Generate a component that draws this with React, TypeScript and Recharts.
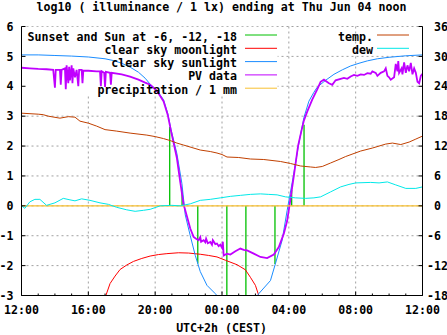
import React from "react";
import {
  ComposedChart,
  Line,
  XAxis,
  YAxis,
  CartesianGrid,
  ReferenceArea,
} from "recharts";

// hours since midnight Jun 03 (24 = 00:00 Jun 04)
const hourTicks = [12, 13, 14, 15, 16, 17, 18, 19, 20, 21, 22, 23, 24, 25, 26, 27, 28, 29, 30, 31, 32, 33, 34, 35, 36];
const majorHours = [12, 16, 20, 24, 28, 32, 36];
const gridHours = [16, 20, 24, 28, 32];
const lightTicks = [-3, -2, -1, 0, 1, 2, 3, 4, 5, 6];
const tempTicks = [-18, -12, -6, 0, 6, 12, 18, 24, 30, 36];

// sunset / sun at -6, -12, -18 deg: [hour, log10 lx]
const sunEvents: [number, number][] = [
  [20.87, 2.64], [21.61, 0.58], [22.55, -1.93], [24.29, -3.6],
  [25.43, -3.6], [27.17, -1.95], [28.17, 0.53], [28.91, 2.71],
];

const moonlight: [number, number][] = [
  [17.05, -3.0], [17.3, -2.6], [17.6, -2.35], [17.9, -2.13], [18.3, -1.98],
  [18.7, -1.86], [19.2, -1.76], [19.7, -1.68], [20.2, -1.63], [20.7, -1.6],
  [21.4, -1.57], [22.0, -1.58], [22.7, -1.62], [23.2, -1.66], [23.7, -1.71],
  [24.2, -1.82], [24.9, -1.97], [25.4, -2.14], [25.7, -2.39], [26.0, -2.66],
  [26.2, -3.0],
];

const sunlight: [number, number][] = [
  [12.0, 5.05], [13.0, 5.05], [14.0, 5.03], [15.0, 5.01], [16.0, 4.98],
  [17.0, 4.92], [17.5, 4.86], [18.0, 4.77], [18.5, 4.64], [19.0, 4.47],
  [19.4, 4.27], [19.7, 4.07], [20.1, 3.87], [20.5, 3.55], [20.75, 3.1],
  [20.95, 2.55], [21.3, 1.75], [21.6, 0.75], [21.8, -0.3], [22.1, -1.0],
  [22.4, -1.66], [22.7, -2.2], [23.1, -2.66], [23.6, -2.94], [24.0, -3.2],
  [25.0, -3.5], [26.0, -3.1], [26.2, -2.94], [26.9, -2.5], [27.2, -1.93],
  [27.6, -1.15], [27.9, -0.15], [28.27, 1.0], [28.57, 2.0], [28.9, 2.95],
  [29.2, 3.5], [29.5, 3.8], [29.7, 3.97], [30.2, 4.2], [30.7, 4.4],
  [31.2, 4.55], [31.7, 4.68], [32.2, 4.77], [32.7, 4.85], [33.3, 4.92],
  [34.0, 4.97], [35.0, 5.02], [36.0, 5.05],
];

const pvData: [number, number][] = [
  [12.0, 4.62], [12.5, 4.6], [13.0, 4.58], [13.5, 4.57], [13.9, 4.55],
  [14.0, 3.95], [14.05, 4.55], [14.3, 4.55], [14.35, 4.05], [14.4, 4.55],
  [14.6, 4.6], [14.65, 3.9], [14.7, 4.7], [14.8, 4.1], [14.85, 4.65],
  [14.9, 4.2], [15.0, 4.7], [15.05, 4.1], [15.1, 4.6], [15.2, 4.3],
  [15.3, 4.55], [15.4, 4.0], [15.45, 4.55], [15.6, 4.55], [15.65, 4.1],
  [15.7, 4.52], [16.0, 4.52], [16.5, 4.5], [16.7, 4.5], [16.75, 4.0],
  [16.8, 4.5], [16.95, 4.45], [17.0, 3.98], [17.05, 4.48], [17.3, 4.45],
  [17.35, 4.05], [17.4, 4.45], [18.0, 4.4], [18.5, 4.32], [19.0, 4.22],
  [19.4, 4.12], [19.7, 4.05], [20.1, 3.85], [20.5, 3.5], [20.75, 3.05],
  [20.95, 2.5], [21.3, 1.6], [21.5, 0.8], [21.7, 0.05], [21.9, -0.35],
  [22.1, -0.76], [22.3, -1.04], [22.45, -1.1], [22.6, -1.15], [22.7, -1.05],
  [22.75, -1.2], [22.9, -1.15], [23.0, -1.22], [23.05, -1.1], [23.15, -1.25],
  [23.3, -1.21], [23.4, -1.3], [23.45, -1.15], [23.6, -1.28], [23.7, -1.26],
  [23.8, -1.35], [23.9, -1.3], [24.0, -1.4], [24.05, -1.2], [24.1, -1.66],
  [24.3, -1.6], [24.5, -1.63], [24.8, -1.52], [25.1, -1.43], [25.3, -1.47],
  [25.5, -1.49], [25.9, -1.6], [26.3, -1.71], [26.7, -1.75], [27.1, -1.63],
  [27.4, -1.38], [27.7, -0.93], [27.9, -0.5], [28.05, 0.05], [28.3, 1.0],
  [28.55, 2.0], [28.75, 2.5], [28.9, 2.85], [29.1, 3.15], [29.4, 3.55],
  [29.7, 3.9], [29.9, 4.15], [30.1, 4.22], [30.4, 4.1], [30.6, 4.05],
  [30.8, 4.2], [31.1, 4.25], [31.3, 4.28], [31.5, 4.25], [31.7, 4.33],
  [31.9, 4.38], [32.1, 4.35], [32.3, 4.4], [32.5, 4.38], [32.7, 4.44],
  [32.9, 4.42], [33.0, 4.5], [33.2, 4.45], [33.3, 4.35], [33.5, 4.45],
  [33.7, 4.5], [33.8, 4.6], [33.9, 4.35], [34.0, 4.3], [34.1, 4.22],
  [34.3, 4.3], [34.4, 4.75], [34.5, 4.5], [34.55, 4.84], [34.6, 4.45],
  [34.75, 4.6], [34.8, 4.4], [34.9, 4.8], [35.0, 4.45], [35.1, 4.7],
  [35.2, 4.5], [35.3, 4.78], [35.4, 4.4], [35.5, 4.6], [35.6, 4.45],
  [35.7, 4.15], [35.8, 4.1], [35.9, 4.35], [36.0, 4.42],
];

const precipitation: [number, number][] = hourTicks.map((h) => [h, 0]);

// temperatures in deg C (right axis)
const temperature: [number, number][] = [
  [12.0, 18.6], [13.0, 18.4], [13.3, 18.3], [13.6, 18.0], [14.3, 17.6],
  [14.8, 17.9], [15.2, 17.8], [15.5, 17.0], [16.0, 16.6], [16.5, 16.0],
  [17.0, 15.3], [17.7, 15.0], [18.5, 14.6], [19.5, 14.2], [20.0, 13.9],
  [20.5, 13.5], [20.9, 13.1], [21.3, 12.6], [21.7, 12.2], [22.2, 11.7],
  [22.7, 11.2], [23.3, 10.9], [23.7, 10.6], [24.0, 10.3], [24.3, 9.8],
  [25.0, 9.7], [25.7, 9.4], [26.5, 9.3], [27.5, 8.9], [28.1, 8.5],
  [28.7, 8.0], [29.3, 7.8], [29.6, 7.7], [30.0, 7.9], [30.5, 8.6],
  [31.0, 9.3], [31.4, 9.9], [32.3, 11.0], [33.0, 11.6], [33.8, 12.4],
  [34.2, 12.6], [34.7, 12.3], [35.2, 12.8], [35.6, 13.4], [36.0, 14.0],
];

const dewPoint: [number, number][] = [
  [12.0, 0.0], [12.2, -0.5], [12.5, 0.8], [12.8, 1.3], [13.1, 1.3],
  [13.5, 0.1], [14.0, 0.6], [14.5, 1.5], [14.9, 1.2], [15.2, 1.0],
  [15.6, 1.4], [16.1, 1.1], [16.7, 0.6], [17.2, 0.3], [17.7, -0.3],
  [18.3, -0.8], [18.8, -1.1], [19.3, -0.9], [19.7, -0.7], [20.3, 0.0],
  [21.0, 0.1], [21.5, 0.0], [22.1, 0.4], [22.7, 1.1], [23.3, 1.3],
  [23.9, 1.6], [24.5, 1.9], [25.1, 2.1], [25.7, 2.3], [26.3, 2.4],
  [26.8, 2.3], [27.3, 2.2], [27.8, 1.8], [28.4, 1.6], [29.0, 1.5],
  [29.5, 1.6], [29.9, 1.8], [30.5, 2.8], [31.1, 3.8], [31.6, 4.3],
  [32.0, 4.6], [32.9, 4.7], [33.4, 4.6], [33.9, 4.8], [34.4, 4.2],
  [35.0, 3.5], [35.6, 3.5], [36.0, 3.8],
];

const toRows = (pts: [number, number][]) => pts.map(([t, v]) => ({ t, v }));

const FONT = "'DejaVu Sans Mono', 'Liberation Mono', monospace";
const textStyle = { fontFamily: FONT, fontSize: 11.6, fontWeight: 700, fill: "#000" };

const C_SUN = "#00c000";
const C_MOON = "#ff0000";
const C_CLEAR = "#1a8cff";
const C_PV = "#c000ff";
const C_PREC = "#f8c030";
const C_TEMP = "#c04000";
const C_DEW = "#00e8e8";

const clock = (h: number) => String(h % 24).padStart(2, "0") + ":00";

const BottomTick = ({ x, y, payload }: any) => {
  const major = majorHours.includes(payload.value);
  return (
    <g>
      <line x1={x} x2={x} y1={y} y2={y - (major ? 4 : 2)} stroke="#000" />
      {major && (
        <text x={x} y={y + 18} textAnchor="middle" {...textStyle}>
          {clock(payload.value)}
        </text>
      )}
    </g>
  );
};

const TopTick = ({ x, y, payload }: any) => {
  const major = majorHours.includes(payload.value);
  return <line x1={x} x2={x} y1={y} y2={y + (major ? 4 : 2)} stroke="#000" />;
};

const LeftTick = ({ x, y, payload }: any) => (
  <g>
    <line x1={x} x2={x + 4} y1={y} y2={y} stroke="#000" />
    <text x={x - 8} y={y + 4.2} textAnchor="end" {...textStyle}>
      {payload.value}
    </text>
  </g>
);

// minus sign hangs to the left of the digits, like gnuplot's y2 labels
const RightTick = ({ x, y, payload }: any) => (
  <g>
    <line x1={x} x2={x - 4} y1={y} y2={y} stroke="#000" />
    <text x={x + (payload.value < 0 ? 4.6 : 11.6)} y={y + 4.2} textAnchor="start" {...textStyle}>
      {payload.value}
    </text>
  </g>
);

const leftKeys = [
  { label: "Sunset and Sun at -6, -12, -18", color: C_SUN },
  { label: "clear sky moonlight", color: C_MOON },
  { label: "clear sky sunlight", color: C_CLEAR },
  { label: "PV data", color: C_PV },
  { label: "precipitation / 1 mm", color: C_PREC },
];
const rightKeys = [
  { label: "temp.", color: C_TEMP },
  { label: "dew", color: C_DEW },
];

const Overlay = () => (
  <svg
    width={447}
    height={335}
    style={{ position: "absolute", left: 0, top: 0, pointerEvents: "none" }}
  >
    <text x={221.5} y={11} textAnchor="middle" {...textStyle}>
      log10 ( illuminance / 1 lx) ending at Thu Jun 04 noon
    </text>
    <text x={221.5} y={331.5} textAnchor="middle" {...textStyle}>
      UTC+2h (CEST)
    </text>
    {leftKeys.map((k, i) => {
      const y = 35 + i * 13.3;
      return (
        <g key={k.label}>
          <text x={237} y={y + 5.5} textAnchor="end" {...textStyle}>
            {k.label}
          </text>
          <line x1={245} x2={277} y1={y} y2={y} stroke={k.color} strokeWidth={1} />
        </g>
      );
    })}
    {rightKeys.map((k, i) => {
      const y = 35 + i * 13.3;
      return (
        <g key={k.label}>
          <text x={373} y={y + 5.5} textAnchor="end" {...textStyle}>
            {k.label}
          </text>
          <line x1={377} x2={409} y1={y} y2={y} stroke={k.color} strokeWidth={1} />
        </g>
      );
    })}
  </svg>
);

const lineProps = {
  type: "linear" as const,
  dataKey: "v",
  dot: false,
  activeDot: false,
  isAnimationActive: false,
  xAxisId: "bottom",
};

export default function App() {
  return (
    <div style={{ position: "absolute", left: 0, top: 0, width: 447, height: 335, background: "#fff" }}>
      <ComposedChart
        width={447}
        height={335}
        margin={{ top: 26.5, right: 0, bottom: 0, left: 0 }}
      >
        <CartesianGrid
          xAxisId="bottom"
          yAxisId="left"
          stroke="#a0a0a0"
          strokeDasharray="2 3"
          verticalValues={gridHours}
        />
        <XAxis
          xAxisId="bottom"
          dataKey="t"
          type="number"
          domain={[12, 36]}
          ticks={hourTicks}
          interval={0}
          allowDataOverflow
          height={39.5}
          tickSize={0}
          tickMargin={0}
          tick={<BottomTick />}
          axisLine={{ stroke: "#000" }}
        />
        <XAxis
          xAxisId="top"
          orientation="top"
          dataKey="t"
          type="number"
          domain={[12, 36]}
          ticks={hourTicks}
          interval={0}
          allowDataOverflow
          height={0}
          tickSize={0}
          tickMargin={0}
          tick={<TopTick />}
          axisLine={{ stroke: "#000" }}
        />
        <YAxis
          yAxisId="left"
          type="number"
          domain={[-3, 6]}
          ticks={lightTicks}
          interval={0}
          allowDataOverflow
          width={21.5}
          tickSize={0}
          tickMargin={0}
          tick={<LeftTick />}
          axisLine={{ stroke: "#000" }}
        />
        <YAxis
          yAxisId="right"
          orientation="right"
          type="number"
          domain={[-18, 36]}
          ticks={tempTicks}
          interval={0}
          allowDataOverflow
          width={24.5}
          tickSize={0}
          tickMargin={0}
          tick={<RightTick />}
          axisLine={{ stroke: "#000" }}
        />
        {/* opaque key box hides the grid behind the legend */}
        <ReferenceArea
          xAxisId="bottom"
          yAxisId="left"
          x1={12}
          x2={27.33}
          y1={3.72}
          y2={6}
          fill="#fff"
          fillOpacity={1}
          stroke="none"
          ifOverflow="hidden"
        />
        {sunEvents.map(([t, v], i) => (
          <Line
            key={"sun" + i}
            {...lineProps}
            yAxisId="left"
            data={toRows([[t, 0], [t, v]])}
            stroke={C_SUN}
            strokeWidth={1.3}
          />
        ))}
        <Line {...lineProps} yAxisId="left" data={toRows(moonlight)} stroke={C_MOON} strokeWidth={1} />
        <Line {...lineProps} yAxisId="left" data={toRows(sunlight)} stroke={C_CLEAR} strokeWidth={1} />
        <Line {...lineProps} yAxisId="left" data={toRows(pvData)} stroke={C_PV} strokeWidth={1.8} />
        <Line {...lineProps} yAxisId="left" data={toRows(precipitation)} stroke={C_PREC} strokeWidth={1.3} />
        <Line {...lineProps} yAxisId="right" data={toRows(temperature)} stroke={C_TEMP} strokeWidth={1} />
        <Line {...lineProps} yAxisId="right" data={toRows(dewPoint)} stroke={C_DEW} strokeWidth={1} />
      </ComposedChart>
      <Overlay />
    </div>
  );
}
